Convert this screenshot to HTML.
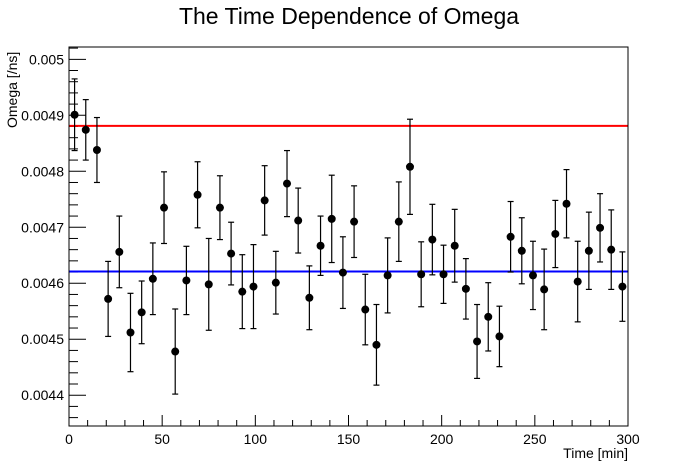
<!DOCTYPE html>
<html><head><meta charset="utf-8">
<style>
html,body{margin:0;padding:0;background:#fff;}
svg{display:block;font-family:"Liberation Sans",Arial,sans-serif;}
</style></head>
<body>
<svg id="chart" width="698" height="474" viewBox="0 0 698 474">
<rect width="698" height="474" fill="#fff"/>
<text x="349" y="24" font-size="23" text-anchor="middle">The Time Dependence of Omega</text>
<g id="axes"></g>
<g id="lines"></g>
<g id="points"></g>
<rect x="69" y="47" width="559" height="379" fill="none" stroke="#000" stroke-width="1"/>
<text transform="translate(17,128) rotate(-90)" font-size="14">Omega [/ns]</text>
<text x="628" y="458" font-size="14" text-anchor="end">Time [min]</text>
</svg>
<script>
const times = [3,9,15,21,27,33,39,45,51,57,63,69,75,81,87,93,99,105,111,117,123,129,135,141,147,153,159,165,171,177,183,189,195,201,207,213,219,225,231,237,243,249,255,261,267,273,279,285,291,297];
const omegaE4 = [49.01,48.74,48.38,45.72,46.56,45.12,45.48,46.08,47.35,44.78,46.05,47.58,45.98,47.35,46.53,45.85,45.94,47.48,46.01,47.78,47.12,45.74,46.67,47.15,46.19,47.10,45.53,44.90,46.14,47.10,48.08,46.16,46.78,46.16,46.67,45.90,44.96,45.40,45.05,46.83,46.58,46.14,45.89,46.88,47.42,46.03,46.58,46.99,46.60,45.94];
const errE4 = [0.64,0.54,0.58,0.67,0.64,0.70,0.56,0.64,0.64,0.76,0.61,0.59,0.82,0.57,0.56,0.66,0.75,0.62,0.56,0.59,0.58,0.57,0.53,0.78,0.64,0.64,0.63,0.72,0.67,0.71,0.85,0.58,0.63,0.52,0.65,0.54,0.66,0.61,0.54,0.63,0.59,0.61,0.72,0.60,0.61,0.72,0.69,0.61,0.71,0.62];
const refLines = [48.81, 46.21];
const refColors = ["#ff0000","#0000ff"];
const xTicks = [0,50,100,150,200,250,300];
const yTicks = [44,45,46,47,48,49,50];
const yTickLabels = ["0.0044","0.0045","0.0046","0.0047","0.0048","0.0049","0.005"];

const NS="http://www.w3.org/2000/svg";
const X0=69,X1=628,Y0=426,Y1=47;
const xMin=0,xMax=300,yMin=43.45,yMax=50.22;
const sx=v=>X0+(v-xMin)/(xMax-xMin)*(X1-X0);
const sy=v=>Y0-(v-yMin)/(yMax-yMin)*(Y0-Y1);
function mk(tag,attrs,parent){const e=document.createElementNS(NS,tag);for(const k in attrs)e.setAttribute(k,attrs[k]);parent.appendChild(e);return e;}
const axes=document.getElementById('axes');
for(let v=0;v<=300;v+=10){
  const major=v%50===0;
  const t=mk('line',{x1:sx(v),x2:sx(v),y1:Y0,y2:Y0-(major?11:6),stroke:'#000','stroke-width':1},axes);
  
  
}
xTicks.forEach(v=>{
  const t=mk('text',{x:sx(v),y:Y0+18,'font-size':14,'text-anchor':'middle'},axes);
  t.textContent=v;
  
  
});
for(let i=0;i*0.2+43.6<=50.2+1e-9;i++){
  const v=43.6+i*0.2;
  const major=Math.abs(v-Math.round(v))<1e-6;
  const t=mk('line',{x1:X0,x2:X0+(major?17:9),y1:sy(v),y2:sy(v),stroke:'#000','stroke-width':1},axes);
  
  
}
yTicks.forEach((v,i)=>{
  const t=mk('text',{x:X0-5,y:sy(v)+5,'font-size':14,'text-anchor':'end'},axes);
  t.textContent=yTickLabels[i];
  
  
});
const lines=document.getElementById('lines');
refLines.forEach((v,i)=>{
  const l=mk('line',{x1:X0,x2:X1,y1:sy(v),y2:sy(v),stroke:refColors[i],'stroke-width':2},lines);
  
  
});
const pts=document.getElementById('points');
times.forEach((t,i)=>{
  const x=sx(t),y=sy(omegaE4[i]),yt=sy(omegaE4[i]+errE4[i]),yb=sy(omegaE4[i]-errE4[i]);
  const g=mk('g',{},pts);
  
  
  mk('line',{x1:x,x2:x,y1:yt,y2:yb,stroke:'#000','stroke-width':1.2},g);
  mk('line',{x1:x-3,x2:x+3,y1:yt,y2:yt,stroke:'#000','stroke-width':1.2},g);
  mk('line',{x1:x-3,x2:x+3,y1:yb,y2:yb,stroke:'#000','stroke-width':1.2},g);
  mk('circle',{cx:x,cy:y,r:4,fill:'#000'},g);
});
</script>
</body></html>
